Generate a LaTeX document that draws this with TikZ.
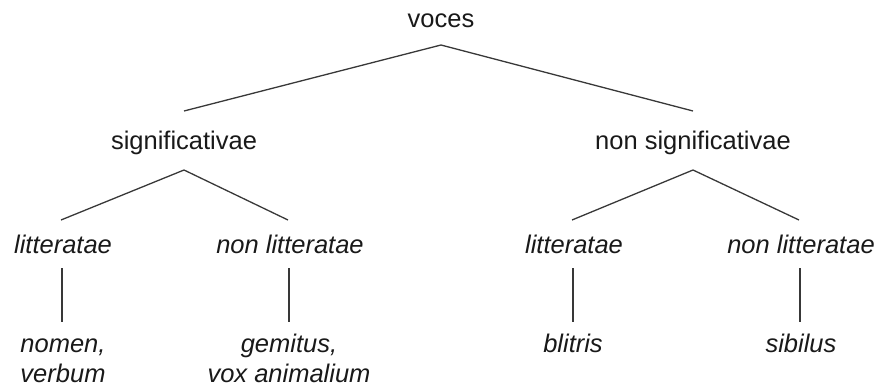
\documentclass[tikz,border=0pt]{standalone}
\usepackage{fontspec}
\setmainfont{Liberation Sans}
\begin{document}
\begin{tikzpicture}[x=1pt,y=-1pt,
  label/.style={anchor=base,inner sep=0pt,text=black!90,font=\fontsize{25.5}{30}\selectfont},
  term/.style={label,font=\fontsize{25.5}{30}\selectfont\itshape,align=center},
  branch/.style={draw=black!78,line width=1.3pt}]
  \useasboundingbox (0,0) rectangle (881,389);
  % genus and first division
  \node[label] (voces) at (441,27) {voces};
  \node[label] (sig) at (184,149) {significativae};
  \node[label] (nonsig) at (693,149) {non significativae};
  % second division
  \node[term] (lit1) at (63,253) {litteratae};
  \node[term] (nonlit1) at (290,253) {non litteratae};
  \node[term] (lit2) at (574,253) {litteratae};
  \node[term] (nonlit2) at (801,253) {non litteratae};
  % examples (two-line nodes sit on the baseline of their last line)
  \node[term] (ex1) at (63,382) {nomen,\\verbum};
  \node[term] (ex2) at (289,382) {gemitus,\\vox animalium};
  \node[term] (ex3) at (573,352) {blitris};
  \node[term] (ex4) at (801,352) {sibilus};
  % branches
  \draw[branch] ([yshift=-18pt]voces.base) -- ([yshift=38pt]sig.base);
  \draw[branch] ([yshift=-18pt]voces.base) -- ([yshift=38pt]nonsig.base);
  \draw[branch] ([yshift=-21pt]sig.base) -- ([xshift=-2pt,yshift=33pt]lit1.base);
  \draw[branch] ([yshift=-21pt]sig.base) -- ([xshift=-2pt,yshift=33pt]nonlit1.base);
  \draw[branch] ([yshift=-21pt]nonsig.base) -- ([xshift=-2pt,yshift=33pt]lit2.base);
  \draw[branch] ([yshift=-21pt]nonsig.base) -- ([xshift=-2pt,yshift=33pt]nonlit2.base);
  \draw[branch] ([xshift=-1pt,yshift=-15pt]lit1.base) -- ([xshift=-1pt,yshift=60pt]ex1.base);
  \draw[branch] ([xshift=-1pt,yshift=-15pt]nonlit1.base) -- ([yshift=60pt]ex2.base);
  \draw[branch] ([xshift=-1pt,yshift=-15pt]lit2.base) -- ([yshift=30pt]ex3.base);
  \draw[branch] ([xshift=-1pt,yshift=-15pt]nonlit2.base) -- ([xshift=-1pt,yshift=30pt]ex4.base);
\end{tikzpicture}
\end{document}
